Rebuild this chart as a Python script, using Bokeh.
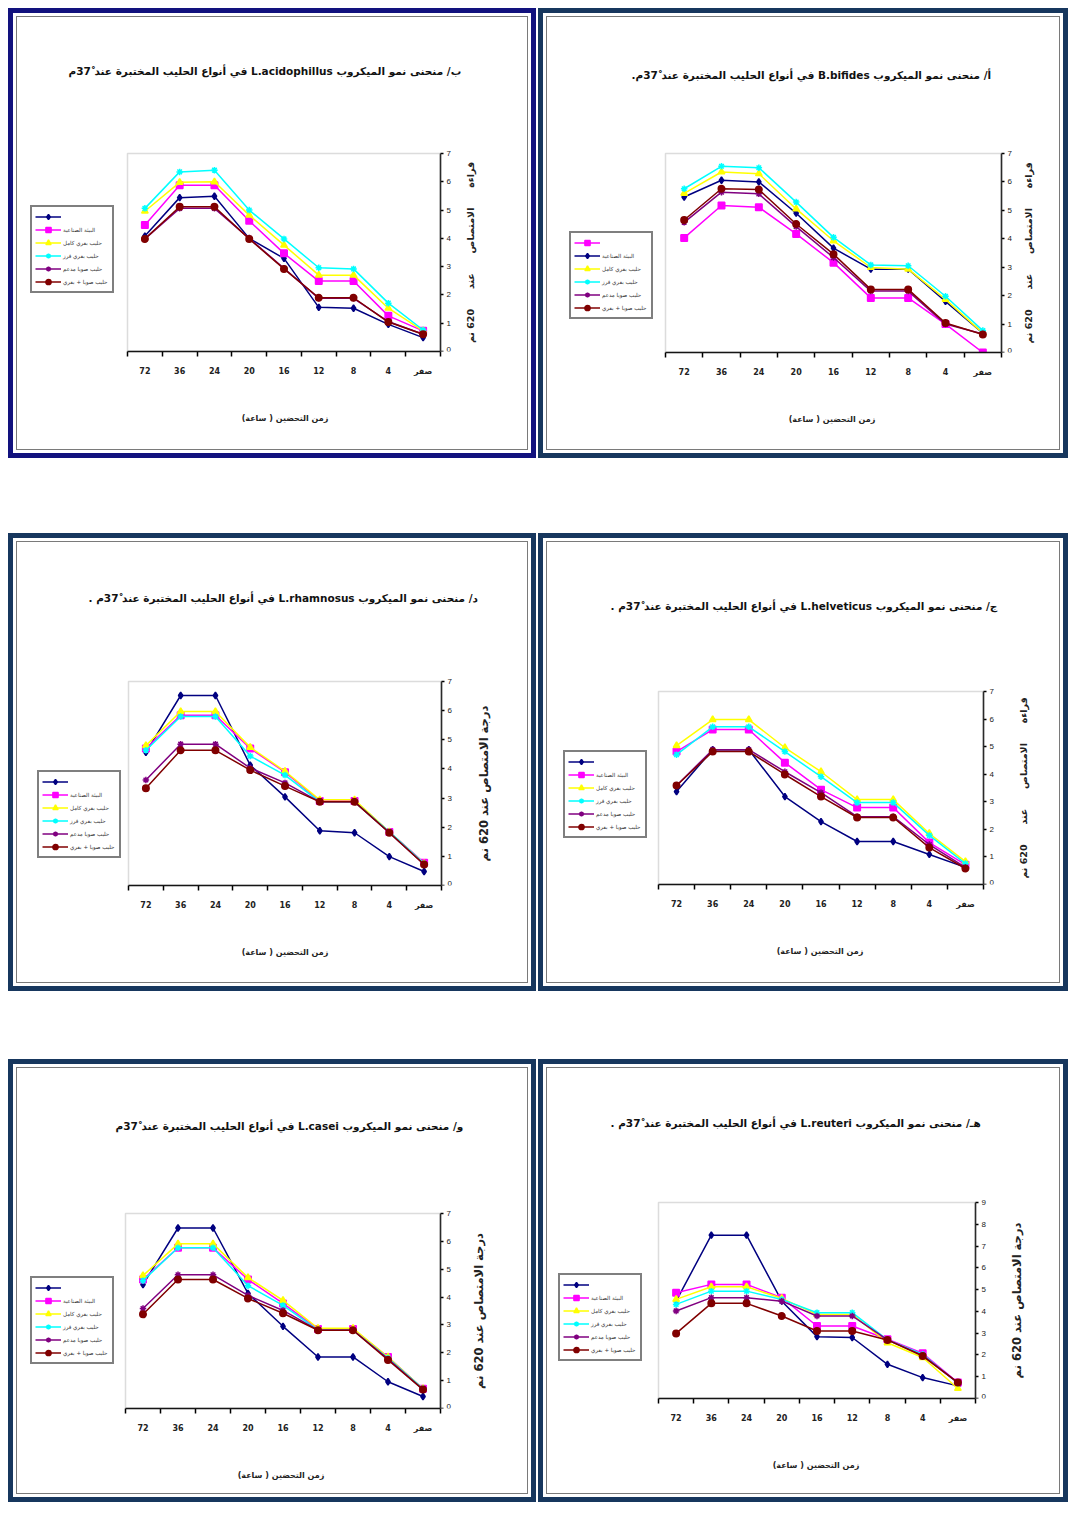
import math
from bokeh.plotting import figure
from bokeh.models import (Range1d, FixedTicker, Legend, LegendItem, Spacer, Title,
                          BoxAnnotation, Label)
from bokeh.layouts import column, row
from bokeh.embed import file_html
from bokeh.resources import INLINE

# ---------------- data ----------------
hours = ["72", "36", "24", "20", "16", "12", "8", "4", "صفر"]
legend_labels = [" ", "البيئة الصناعية", "حليب بقري كامل", "حليب بقري فرز", "حليب صويا مدعم", "حليب صويا + بقري"]

# أ) B. bifides
bif_navy = [5.47, 6.06, 6.00, 4.90, 3.67, 2.93, 2.93, 1.80, 0.68]
bif_magenta = [4.03, 5.17, 5.11, 4.17, 3.16, 1.92, 1.92, 1.00, 0.00]
bif_yellow = [5.60, 6.35, 6.29, 5.05, 3.93, 2.99, 2.93, 1.87, 0.68]
bif_cyan = [5.76, 6.55, 6.50, 5.29, 4.05, 3.08, 3.05, 1.98, 0.77]
bif_purple = [4.58, 5.64, 5.58, 4.43, 3.34, 2.16, 2.16, 1.00, 0.65]
bif_maroon = [4.66, 5.76, 5.73, 4.52, 3.46, 2.22, 2.22, 1.04, 0.63]

# ب) L. acidophilus
aci_navy = [4.08, 5.44, 5.49, 4.00, 3.29, 1.56, 1.53, 0.96, 0.49]
aci_magenta = [4.47, 5.88, 5.88, 4.62, 3.47, 2.49, 2.49, 1.26, 0.73]
aci_yellow = [4.96, 5.98, 6.00, 4.82, 3.76, 2.70, 2.70, 1.53, 0.73]
aci_cyan = [5.06, 6.35, 6.41, 5.00, 3.98, 2.96, 2.92, 1.71, 0.76]
aci_purple = [3.98, 5.06, 5.06, 4.00, 2.94, 1.88, 1.88, 1.06, 0.61]
aci_maroon = [3.98, 5.12, 5.12, 3.98, 2.92, 1.90, 1.90, 1.04, 0.61]

# ج) L. helveticus
hel_navy = [3.37, 4.89, 4.89, 3.19, 2.28, 1.56, 1.56, 1.09, 0.62]
hel_magenta = [4.82, 5.62, 5.62, 4.42, 3.44, 2.79, 2.79, 1.52, 0.72]
hel_yellow = [5.04, 5.98, 5.98, 4.96, 4.09, 3.08, 3.08, 1.85, 0.83]
hel_cyan = [4.71, 5.72, 5.72, 4.82, 3.91, 2.97, 2.97, 1.78, 0.76]
hel_purple = [3.59, 4.89, 4.89, 4.09, 3.33, 2.46, 2.46, 1.45, 0.62]
hel_maroon = [3.59, 4.82, 4.82, 3.99, 3.19, 2.43, 2.43, 1.34, 0.58]

# د) L. rhamnosus
rha_navy = [4.57, 6.52, 6.52, 4.13, 3.04, 1.88, 1.81, 0.99, 0.48]
rha_magenta = [4.70, 5.84, 5.84, 4.70, 3.89, 2.90, 2.90, 1.84, 0.78]
rha_yellow = [4.80, 5.97, 5.97, 4.74, 3.92, 2.94, 2.94, 1.84, 0.75]
rha_cyan = [4.64, 5.80, 5.80, 4.44, 3.79, 2.87, 2.87, 1.84, 0.75]
rha_purple = [3.62, 4.85, 4.85, 4.03, 3.52, 2.87, 2.87, 1.81, 0.72]
rha_maroon = [3.34, 4.64, 4.64, 3.96, 3.41, 2.87, 2.87, 1.81, 0.72]

# هـ) L. reuteri
reu_navy = [4.47, 7.50, 7.50, 4.47, 2.84, 2.80, 1.57, 0.96, 0.58]
reu_magenta = [4.86, 5.24, 5.24, 4.63, 3.33, 3.33, 2.72, 2.08, 0.73]
reu_yellow = [4.55, 5.13, 5.13, 4.60, 3.86, 3.86, 2.56, 1.88, 0.46]
reu_cyan = [4.32, 4.93, 4.93, 4.55, 3.94, 3.94, 2.69, 2.03, 0.70]
reu_purple = [4.02, 4.63, 4.63, 4.47, 3.79, 3.79, 2.69, 1.98, 0.73]
reu_maroon = [2.99, 4.37, 4.37, 3.79, 3.10, 3.10, 2.69, 1.95, 0.73]

# و) L. casei
cas_navy = [4.45, 6.48, 6.48, 4.13, 2.95, 1.85, 1.85, 0.96, 0.43]
cas_magenta = [4.63, 5.77, 5.77, 4.63, 3.77, 2.85, 2.85, 1.85, 0.71]
cas_yellow = [4.77, 5.91, 5.91, 4.70, 3.88, 2.88, 2.88, 1.85, 0.71]
cas_cyan = [4.59, 5.77, 5.77, 4.41, 3.70, 2.81, 2.81, 1.81, 0.71]
cas_purple = [3.59, 4.80, 4.80, 4.06, 3.52, 2.81, 2.81, 1.78, 0.68]
cas_maroon = [3.38, 4.63, 4.63, 3.95, 3.42, 2.81, 2.81, 1.74, 0.68]

COLORS = {"navy": "#000080", "magenta": "#ff00ff", "yellow": "#ffff00",
          "cyan": "#00ffff", "purple": "#800080", "maroon": "#800000"}
MARKERS = {"navy": "diamond", "magenta": "square", "yellow": "triangle",
           "cyan": "asterisk", "purple": "asterisk", "maroon": "circle"}

ARABIC_FONT = "DejaVu Sans"
NB = "\u00a0"
EMSP = "\u2003"
MIN_LEFT = 5
MIN_RIGHT = 22
TOP_PAD = 8


def rtl(s):
    return "\u202b" + s + "\u202c"


def make_panel(title, series, order, ymax, ylabel, ylabel_size, ylabel_dx,
               width, height, geom, title_gap, title_left, legend_loc):
    frame_left, right, top, bottom = geom
    n = len(hours)
    # the frame is widened (legend on the left, y title on the right, a little
    # room on top for the last tick label); the plot box keeps its place
    ppu = (width - right - frame_left) / n
    box_h = height - top - bottom
    x_start = -0.5 - (frame_left - MIN_LEFT) / ppu
    x_end = n - 0.5 + (right - MIN_RIGHT) / ppu
    y_end = ymax + TOP_PAD * ymax / box_h
    p = figure(width=width, height=height,
               x_range=Range1d(x_start, x_end), y_range=Range1d(0, y_end),
               y_axis_location="right", output_backend="svg", toolbar_location=None,
               min_border_left=MIN_LEFT, min_border_right=MIN_RIGHT,
               min_border_top=top - TOP_PAD, min_border_bottom=bottom)
    p.xgrid.visible = False
    p.ygrid.visible = False
    p.outline_line_color = None
    p.background_fill_color = "white"
    p.border_fill_color = "white"
    p.add_layout(BoxAnnotation(left=-0.5, right=n - 0.5, bottom=0, top=ymax,
                               fill_alpha=0, line_color="#8c8c8c", line_width=1.5))

    # empty spacer title next to the frame, then the real title above it
    p.title.visible = False
    p.add_layout(Title(text=NB, text_font_size="12px", standoff=title_gap - TOP_PAD), "above")
    p.add_layout(Title(text=rtl(title), align="left", offset=title_left - MIN_LEFT,
                       standoff=0, text_font=ARABIC_FONT, text_font_size="10.5px",
                       text_font_style="bold", text_color="#111111"), "above")

    xa = p.xaxis[0]
    xa.bounds = (-0.5, n - 0.5)
    xa.ticker = FixedTicker(ticks=list(range(n)),
                            minor_ticks=[i - 0.5 for i in range(n + 1)])
    xa.major_label_overrides = {i: h for i, h in enumerate(hours)}
    xa.major_tick_out = 0
    xa.major_tick_in = 0
    xa.minor_tick_out = 5
    xa.minor_tick_in = 0
    xa.minor_tick_line_color = "black"
    xa.minor_tick_line_width = 1.5
    xa.axis_line_color = "black"
    xa.axis_line_width = 1.5
    xa.major_label_standoff = 10
    xa.major_label_text_font = ARABIC_FONT
    xa.major_label_text_font_size = "8px"
    xa.major_label_text_font_style = "bold"
    xa.major_label_text_color = "#222222"
    # the axis title is centred on the whole frame: pad it on the left so that
    # it is centred on the plot box
    shift = (frame_left - right - MIN_LEFT + MIN_RIGHT) / 2.0
    pad = EMSP * max(0, int(round(2 * shift / 8.0)))
    xa.axis_label = pad + rtl("زمن التحضين ( ساعة)")
    xa.axis_label_text_font = ARABIC_FONT
    xa.axis_label_text_font_size = "8px"
    xa.axis_label_text_font_style = "bold"
    xa.axis_label_text_color = "#222222"
    xa.axis_label_standoff = 35

    ya = p.yaxis[0]
    ya.fixed_location = n - 0.5
    ya.bounds = (0, ymax)
    ya.ticker = FixedTicker(ticks=list(range(ymax + 1)), minor_ticks=[])
    ya.major_label_overrides = {0: ""}
    ya.major_tick_out = 3
    ya.major_tick_in = 0
    ya.major_tick_line_width = 1.5
    ya.minor_tick_out = 0
    ya.axis_line_color = "black"
    ya.axis_line_width = 1.5
    ya.major_label_standoff = 3
    ya.major_label_text_font = "Liberation Sans"
    ya.major_label_text_font_size = "8px"
    ya.major_label_text_color = "#222222"
    # the "0" tick label, kept above the bottom edge of the frame
    p.add_layout(Label(x=n - 0.5 + 6 / ppu, y=0, text="0", text_align="left",
                       text_baseline="bottom", text_font="Liberation Sans",
                       text_font_size="8px", text_color="#222222"))

    p.add_layout(Label(x=n - 0.5 + ylabel_dx / ppu, y=ymax / 2.0, text=ylabel,
                       angle=math.pi / 2, text_align="center", text_baseline="middle",
                       text_font=ARABIC_FONT, text_font_size=ylabel_size,
                       text_font_style="bold", text_color="#222222"))

    xs = list(range(n))
    items = []
    for i, key in enumerate(order):
        vals = series[key]
        l = p.line(xs, vals, line_color=COLORS[key], line_width=1.5)
        s = p.scatter(xs, vals, marker=MARKERS[key], size=6.5,
                      line_color=COLORS[key], fill_color=COLORS[key], line_width=1.5)
        items.append(LegendItem(label=legend_labels[i], renderers=[l, s]))

    leg = Legend(items=items, location=legend_loc,
                 border_line_color="black", border_line_width=2,
                 background_fill_color="white", background_fill_alpha=1.0,
                 label_text_font=ARABIC_FONT, label_text_font_size="5.5px",
                 label_text_color="#333333", label_width=46,
                 glyph_width=26, glyph_height=13, label_height=13,
                 label_standoff=2, spacing=0, padding=3, margin=0)
    p.add_layout(leg)
    p.styles = {"border": "1px solid #7a7a7a"}
    return p


def boxed(p, color):
    return column(p, styles={"border": "5px solid " + color, "padding": "3px",
                             "background-color": "white"})


ORDER_STD = ["navy", "magenta", "yellow", "cyan", "purple", "maroon"]
ORDER_A = ["magenta", "navy", "yellow", "cyan", "purple", "maroon"]

GAP = NB * 6
YL1 = "قراءة" + GAP + "الامتصاص" + GAP + "عند" + GAP + "620" + NB + "نم"
YL2 = "درجة الامتصاص عند 620 نم"

p_b = make_panel("ب/ منحنى نمو الميكروب L.acidophillus في أنواع الحليب المختبرة عند 37ْم",
                 dict(navy=aci_navy, magenta=aci_magenta, yellow=aci_yellow, cyan=aci_cyan,
                      purple=aci_purple, maroon=aci_maroon),
                 ORDER_STD, 7, YL1, "9.5px", 30, 512, 434, (110, 89, 136, 100),
                 61, 51, (8, 58))

p_a = make_panel("أ/ منحنى نمو الميكروب B.bifides في أنواع الحليب المختبرة عند 37ْم.",
                 dict(navy=bif_navy, magenta=bif_magenta, yellow=bif_yellow, cyan=bif_cyan,
                      purple=bif_purple, maroon=bif_maroon),
                 ORDER_A, 7, YL1, "9.5px", 27, 514, 434, (118, 60, 136, 99),
                 57, 84, (17, 33))

p_d = make_panel("د/ منحنى نمو الميكروب L.rhamnosus في أنواع الحليب المختبرة عند 37ْم .",
                 dict(navy=rha_navy, magenta=rha_magenta, yellow=rha_yellow, cyan=rha_cyan,
                      purple=rha_purple, maroon=rha_maroon),
                 ORDER_STD, 7, YL2, "11.5px", 42, 512, 442, (111, 88, 139, 99),
                 62, 71, (15, 27))

p_c = make_panel("ج/ منحنى نمو الميكروب L.helveticus في أنواع الحليب المختبرة عند 37ْم .",
                 dict(navy=hel_navy, magenta=hel_magenta, yellow=hel_yellow, cyan=hel_cyan,
                      purple=hel_purple, maroon=hel_maroon),
                 ORDER_STD, 7, YL1, "9.5px", 40, 514, 442, (111, 78, 149, 100),
                 64, 63, (11, 46))

p_w = make_panel("و/ منحنى نمو الميكروب L.casei في أنواع الحليب المختبرة عند 37ْم",
                 dict(navy=cas_navy, magenta=cas_magenta, yellow=cas_yellow, cyan=cas_cyan,
                      purple=cas_purple, maroon=cas_maroon),
                 ORDER_STD, 7, YL2, "11.5px", 38, 512, 427, (108, 89, 145, 87),
                 66, 98, (8, 44))

p_h = make_panel("هـ/ منحنى نمو الميكروب L.reuteri في أنواع الحليب المختبرة عند 37ْم .",
                 dict(navy=reu_navy, magenta=reu_magenta, yellow=reu_yellow, cyan=reu_cyan,
                      purple=reu_purple, maroon=reu_maroon),
                 ORDER_STD, 9, YL2, "11.5px", 41, 514, 427, (111, 86, 134, 97),
                 58, 63, (6, 37))

layout = column(
    Spacer(height=8),
    row(Spacer(width=6), boxed(p_b, "#12127e"), boxed(p_a, "#17375e"), spacing=2),
    Spacer(height=75),
    row(Spacer(width=6), boxed(p_d, "#17375e"), boxed(p_c, "#17375e"), spacing=2),
    Spacer(height=68),
    row(Spacer(width=6), boxed(p_w, "#17375e"), boxed(p_h, "#17375e"), spacing=2),
)

open("out.html", "w").write(file_html(layout, INLINE))
